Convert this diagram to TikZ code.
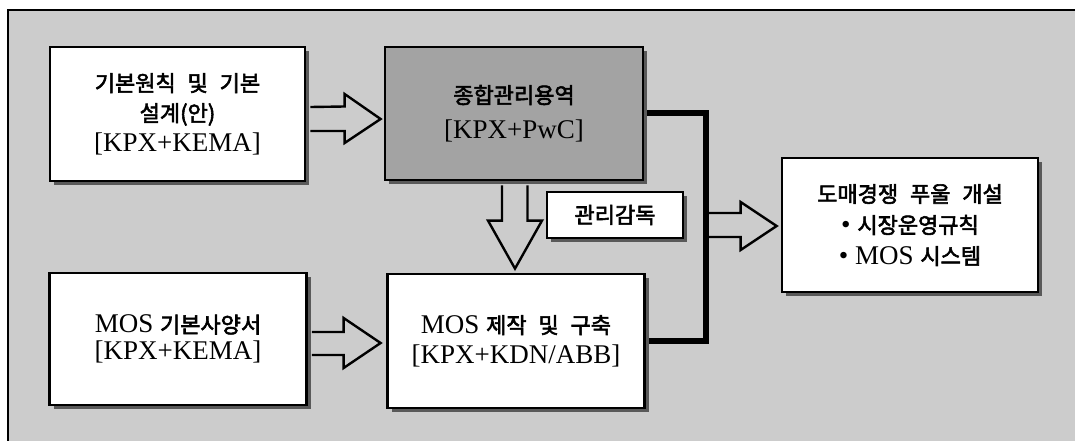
\documentclass[tikz,border=0pt]{standalone}
\usepackage{fontspec}
\setmainfont{Liberation Serif}
\newfontfamily\kr{Noto Sans CJK KR}[FakeBold=2.6, WordSpace=2.4]
\usetikzlibrary{shadows,calc}
\newcommand\K[1]{{\kr\fontsize{22}{30}\selectfont #1}}
\definecolor{bgc}{gray}{0.80}
\definecolor{boxgray}{gray}{0.64}
\begin{document}
\begin{tikzpicture}[x=1pt,y=-1pt,
  box/.style={draw=black, line width=2.8pt, fill=white, align=center, inner sep=0pt,
    font=\fontsize{27}{30}\selectfont,
    drop shadow={shadow xshift=4pt, shadow yshift=-4pt, fill=black!65, opacity=1}},
  barrow/.style={draw=black, line width=2.4pt, line join=miter},
  bus/.style={draw=black, line width=6pt, line join=miter}]
\useasboundingbox (0,0) rectangle (1075,441);
\fill[bgc] (8,10) rectangle (1075,441);
\draw[line width=1.8pt] (8,441) -- (8,10) -- (1075,10);

% bus line (drawn first, boxes cover its ends)
\coordinate (busT) at (706,113.5);
\coordinate (busB) at (706,341);
\draw[bus] (643,113.5) -- (busT) -- (busB) -- (645,341);

\node[box, minimum width=255pt, minimum height=134pt] (b1) at (177.5,114)
  {\K{기본원칙 및 기본}\\\K{설계(안)}\\{[KPX+KEMA]}};
\node[box, fill=boxgray, minimum width=258pt, minimum height=133pt] (b2) at (514,113.5)
  {\K{종합관리용역}\\[5pt]{[KPX+PwC]}};
\node[box, minimum width=257pt, minimum height=132pt, font=\fontsize{27}{27}\selectfont] (b3) at (178,339)
  {MOS \K{기본사양서}\\{[KPX+KEMA]}};
\node[box, minimum width=257pt, minimum height=134pt] (b4) at (516,341)
  {MOS \K{제작 및 구축}\\{[KPX+KDN/ABB]}};
\node[box, minimum width=256pt, minimum height=134pt, font=\fontsize{27}{31}\selectfont] (b5) at (910,225)
  {\K{도매경쟁 푸울 개설}\\• \K{시장운영규칙}\\• MOS \K{시스템}};
\node[box, minimum width=136pt, minimum height=46pt] (lab) at (615,215) {\K{관리감독}};

% block arrow b1 -> b2
\draw[barrow] ($(b1.east)+(4,-7)$) -- ($(b2.west)+(-39,-7)$) -- ($(b2.west)+(-39,-19.5)$)
  -- ($(b2.west)+(-3,5.5)$) -- ($(b2.west)+(-39,29.5)$) -- ($(b2.west)+(-39,17.5)$)
  -- ($(b1.east)+(4,17)$);
% block arrow b3 -> b4
\draw[barrow] ($(b3.east)+(4,-7)$) -- ($(b4.west)+(-42.5,-9)$) -- ($(b4.west)+(-42.5,-23)$)
  -- ($(b4.west)+(-5.5,2)$) -- ($(b4.west)+(-42.5,27)$) -- ($(b4.west)+(-42.5,14)$)
  -- ($(b3.east)+(4,16)$);
% block arrow b2 -> b4 (down)
\draw[barrow] ($(b2.south)+(-12,4)$) -- ($(b4.north)+(-14,-52)$) -- ($(b4.north)+(-28,-52)$)
  -- ($(b4.north)+(-1,-4)$) -- ($(b4.north)+(26,-52)$) -- ($(b4.north)+(11.5,-52)$)
  -- ($(b2.south)+(13.5,4)$);
% block arrow bus -> b5
\draw[barrow] ($(busB |- b5.west)+(3,-12)$) -- ($(b5.west)+(-40,-12)$) -- ($(b5.west)+(-40,-23)$)
  -- ($(b5.west)+(-4,1)$) -- ($(b5.west)+(-40,25)$) -- ($(b5.west)+(-40,12)$)
  -- ($(busB |- b5.west)+(3,12)$);
\end{tikzpicture}
\end{document}
